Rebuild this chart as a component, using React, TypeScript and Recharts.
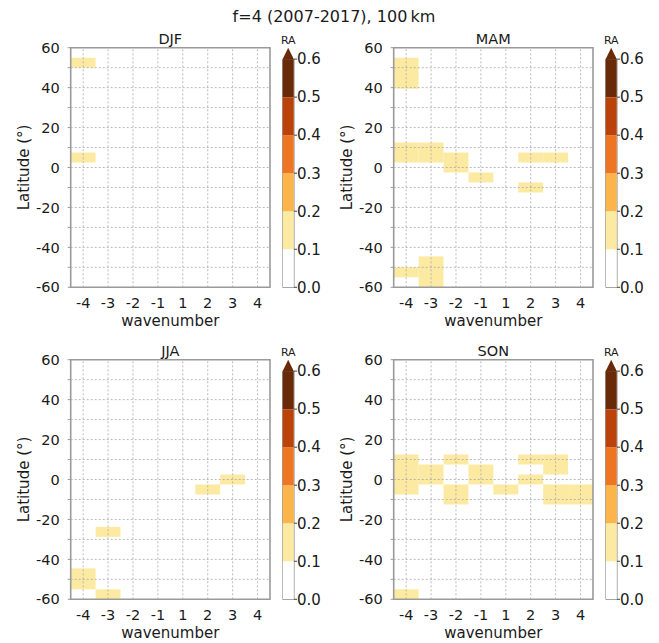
import React from "react";
import { ComposedChart, BarChart, Bar, XAxis, YAxis, ReferenceArea, ReferenceLine, Label } from "recharts";

// wavenumber columns (no zero) and latitude ticks
const WAVENUMBERS = [-4, -3, -2, -1, 1, 2, 3, 4];
const LAT_TICKS = [-60, -50, -40, -30, -20, -10, 0, 10, 20, 30, 40, 50, 60];

// colorbar levels and colours (YlOrBr-ish, extend max)
const RA_LEVELS = [0, 0.1, 0.2, 0.3, 0.4, 0.5, 0.6];
const RA_COLORS = ["#ffffff", "#fdeaa2", "#fbb54a", "#ee7623", "#bb4208", "#692a09"];

type Cell = { k: number; latS: number; latN: number; ra: number };

const DJF_CELLS: Cell[] = [
  { k: -4, latS: 50, latN: 55, ra: 0.13 },
  { k: -4, latS: 2.5, latN: 7.5, ra: 0.12 },
];

const MAM_CELLS: Cell[] = [
  { k: -4, latS: 39.5, latN: 55, ra: 0.14 },
  { k: -4, latS: 2.5, latN: 12.5, ra: 0.15 },
  { k: -4, latS: -55, latN: -50, ra: 0.12 },
  { k: -3, latS: 2.5, latN: 12.5, ra: 0.14 },
  { k: -3, latS: -60, latN: -44.5, ra: 0.13 },
  { k: -2, latS: -2.5, latN: 7.5, ra: 0.12 },
  { k: -1, latS: -7.5, latN: -2.5, ra: 0.11 },
  { k: 2, latS: 2.5, latN: 7.5, ra: 0.13 },
  { k: 2, latS: -12.5, latN: -7.5, ra: 0.11 },
  { k: 3, latS: 2.5, latN: 7.5, ra: 0.12 },
];

const JJA_CELLS: Cell[] = [
  { k: -4, latS: -55, latN: -44.5, ra: 0.14 },
  { k: -3, latS: -60, latN: -55, ra: 0.12 },
  { k: -3, latS: -28.75, latN: -23.75, ra: 0.11 },
  { k: 2, latS: -7.5, latN: -2.5, ra: 0.12 },
  { k: 3, latS: -2.5, latN: 2.5, ra: 0.11 },
];

const SON_CELLS: Cell[] = [
  { k: -4, latS: -7.5, latN: 12.5, ra: 0.15 },
  { k: -4, latS: -60, latN: -55, ra: 0.11 },
  { k: -3, latS: -2.5, latN: 7.5, ra: 0.13 },
  { k: -2, latS: 7.5, latN: 12.5, ra: 0.11 },
  { k: -2, latS: -12.5, latN: -2.5, ra: 0.12 },
  { k: -1, latS: -2.5, latN: 7.5, ra: 0.13 },
  { k: 1, latS: -7.5, latN: -2.5, ra: 0.11 },
  { k: 2, latS: 7.5, latN: 12.5, ra: 0.12 },
  { k: 2, latS: -2.5, latN: 2.5, ra: 0.11 },
  { k: 3, latS: 2.5, latN: 12.5, ra: 0.13 },
  { k: 3, latS: -12.5, latN: -2.5, ra: 0.14 },
  { k: 4, latS: -12.5, latN: -2.5, ra: 0.13 },
];

const PANELS = [
  { title: "DJF", cells: DJF_CELLS },
  { title: "MAM", cells: MAM_CELLS },
  { title: "JJA", cells: JJA_CELLS },
  { title: "SON", cells: SON_CELLS },
];

const FONT = "DejaVu Sans, sans-serif";
const INK = "#1a1a1a";
const GRID = "#a8a8a8";
const SPINE = "#9a9a9a";
// room above the top level for the "extend max" triangle (5% of the bar)
const CB_TOP = RA_LEVELS[RA_LEVELS.length - 1] * 1.05;

const raColor = (v: number) => {
  let c = RA_COLORS[0];
  RA_COLORS.forEach((col, i) => {
    if (v >= RA_LEVELS[i]) c = col;
  });
  return c;
};

const xLabel = (props: any) => {
  const vb = props.viewBox;
  return (
    <text x={vb.x + vb.width / 2} y={vb.y + 38.7} textAnchor="middle" fontSize={15} fontFamily={FONT} fill={INK}>
      wavenumber
    </text>
  );
};

const yLabel = (props: any) => {
  const vb = props.viewBox;
  const cx = vb.x + 18.3;
  const cy = vb.y + vb.height / 2;
  return (
    <text x={cx} y={cy} transform={`rotate(-90 ${cx} ${cy})`} textAnchor="middle" fontSize={15} fontFamily={FONT} fill={INK}>
      Latitude (°)
    </text>
  );
};

const Heatmap = ({ cells }: { cells: Cell[] }) => {
  const data = cells.map((c) => ({ x: WAVENUMBERS.indexOf(c.k), y: (c.latS + c.latN) / 2 }));
  return (
    <ComposedChart width={300} height={330} data={data} margin={{ top: 47.7, right: 30, bottom: 12.7, left: 10.7 }}>
      <XAxis
        type="number"
        dataKey="x"
        domain={[-0.5, 7.5]}
        ticks={WAVENUMBERS.map((_, i) => i)}
        tickFormatter={(i: number) => String(WAVENUMBERS[i])}
        interval={0}
        allowDataOverflow
        axisLine={false}
        tickLine={false}
        tickSize={4}
        tickMargin={6}
        height={30}
        tick={{ fill: INK, fontSize: 14.5, fontFamily: FONT }}
        label={<Label content={xLabel} />}
      />
      <YAxis
        type="number"
        dataKey="y"
        domain={[-60, 60]}
        ticks={LAT_TICKS}
        tickFormatter={(v: number) => (v % 20 === 0 ? String(v) : "")}
        interval={0}
        allowDataOverflow
        axisLine={false}
        tickLine={{ stroke: SPINE }}
        tickSize={3}
        tickMargin={8}
        width={60}
        tick={{ fill: INK, fontSize: 14.5, fontFamily: FONT }}
        label={<Label content={yLabel} />}
      />
      {cells.map((c, i) => {
        const xi = WAVENUMBERS.indexOf(c.k);
        return (
          <ReferenceArea
            key={`c${i}`}
            x1={xi - 0.5}
            x2={xi + 0.5}
            y1={c.latS}
            y2={c.latN}
            fill={raColor(c.ra)}
            fillOpacity={1}
            stroke="none"
          />
        );
      })}
      {WAVENUMBERS.map((_, i) => (
        <ReferenceLine key={`gx${i}`} x={i} stroke={GRID} strokeWidth={0.8} strokeDasharray="2 2" />
      ))}
      {LAT_TICKS.slice(1, -1).map((v) => (
        <ReferenceLine key={`gy${v}`} y={v} stroke={GRID} strokeWidth={0.8} strokeDasharray="2 2" />
      ))}
      <ReferenceArea x1={-0.5} x2={7.5} y1={-60} y2={60} fill="none" stroke={SPINE} strokeWidth={1.6} />
    </ComposedChart>
  );
};

const CB_ROW = [
  Object.fromEntries(RA_COLORS.map((_, i) => [`s${i}`, RA_LEVELS[i + 1] - RA_LEVELS[i]])),
];

const ExtendTop = (p: any) => {
  const { x, y, width, height, fill } = p;
  const tip = y - height * 0.3;
  return (
    <g>
      <rect x={x} y={y} width={width} height={height} fill={fill} />
      <path d={`M${x},${y} L${x + width / 2},${tip} L${x + width},${y} Z`} fill={fill} />
    </g>
  );
};

const Colorbar = () => (
  <BarChart width={60} height={330} data={CB_ROW} margin={{ top: 47.7, right: 0, bottom: 42.7, left: 12.7 }} barCategoryGap={0} barGap={0}>
    <XAxis hide />
    <YAxis
      orientation="right"
      type="number"
      domain={[0, CB_TOP]}
      ticks={RA_LEVELS}
      tickFormatter={(v: number) => v.toFixed(1)}
      interval={0}
      allowDataOverflow
      axisLine={false}
      tickLine={{ stroke: "#444" }}
      tickSize={3}
      tickMargin={0}
      width={36}
      tick={{ fill: INK, fontSize: 15, fontFamily: FONT }}
    />
    {RA_COLORS.map((c, i) => (
      <Bar
        key={c}
        dataKey={`s${i}`}
        stackId="cb"
        fill={c}
        isAnimationActive={false}
        shape={i === RA_COLORS.length - 1 ? ExtendTop : undefined}
      />
    ))}
    <ReferenceArea y1={0} y2={0.6} fill="none" stroke="#888" strokeWidth={1} />
  </BarChart>
);

const Panel = ({ title, cells, left, top }: { title: string; cells: Cell[]; left: number; top: number }) => (
  <div style={{ position: "absolute", left, top, width: 330, height: 330 }}>
    <div style={{ position: "absolute", left: 0, top: 0 }}>
      <Heatmap cells={cells} />
    </div>
    <div style={{ position: "absolute", left: 270, top: 0 }}>
      <Colorbar />
    </div>
    <svg width={330} height={60} style={{ position: "absolute", left: 0, top: 0, pointerEvents: "none" }}>
      <text x={170.3} y={44} textAnchor="middle" fontSize={14.5} fontFamily={FONT} fill={INK}>
        {title}
      </text>
      <text x={288.3} y={44} textAnchor="middle" fontSize={11} fontFamily={FONT} fill={INK}>
        RA
      </text>
    </svg>
  </div>
);

export default function App() {
  return (
    <div style={{ position: "absolute", left: 0, top: 0, width: 659, height: 643, background: "#fff", overflow: "hidden" }}>
      <svg width={659} height={30} style={{ position: "absolute", left: 0, top: 0 }}>
        <text x={334} y={22} textAnchor="middle" fontSize={16} fontFamily={FONT} fill={INK}>
          f=4 (2007-2017), 100{"\u2009"}km
        </text>
      </svg>
      {PANELS.map((p, i) => (
        <Panel key={p.title} title={p.title} cells={p.cells} left={(i % 2) * 323.3} top={Math.floor(i / 2) * 311.6} />
      ))}
    </div>
  );
}
